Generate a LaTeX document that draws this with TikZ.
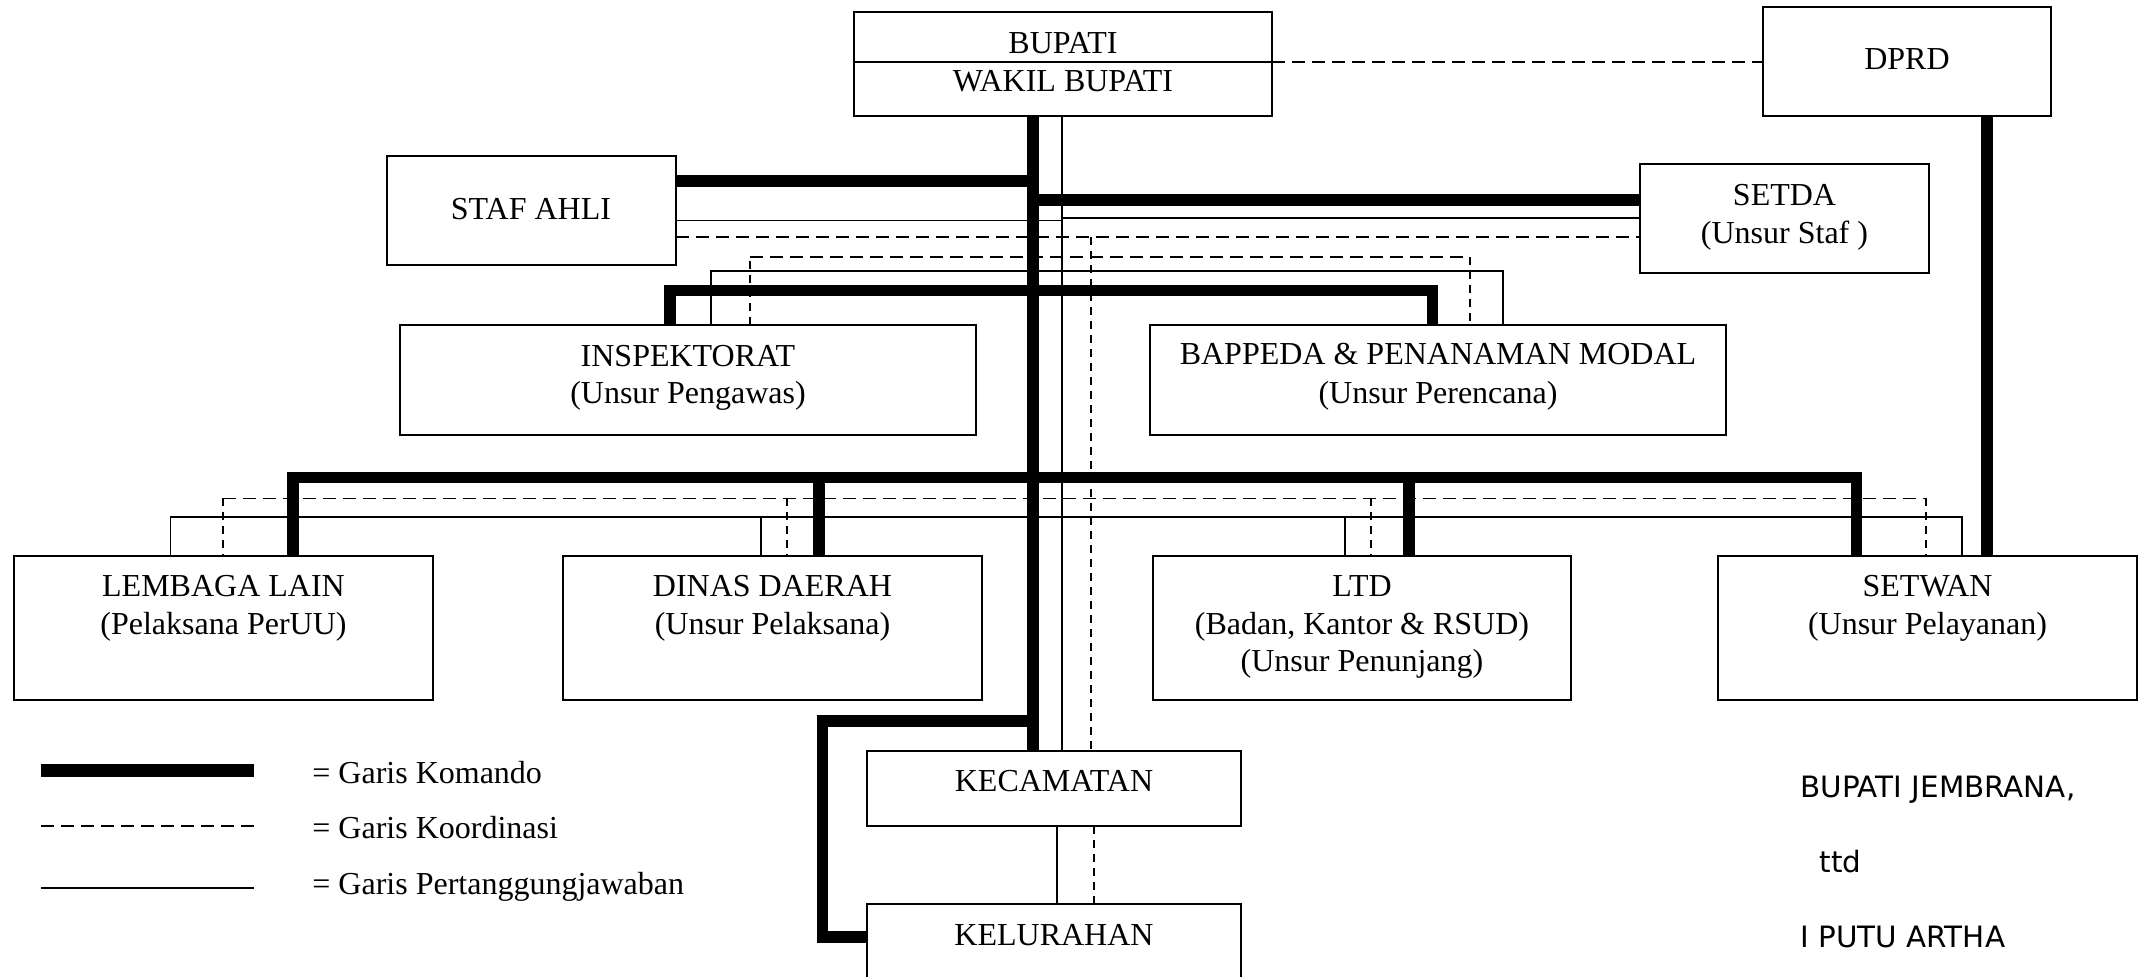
\documentclass[tikz,border=0pt]{standalone}
\usepackage{fontspec}
\setmainfont{Liberation Serif}
\newfontfamily\sigfont{DejaVu Sans}
\begin{document}
% unit: 1 = 0.5pt, y grows downwards
\newcommand\orgbox[5]{%
  \node[box, minimum width={(#4-#2)*0.5pt}, minimum height={(#5-#3)*0.5pt}]
    (#1) at ({(#2+#4)/2},{(#3+#5)/2}) {};}
\begin{tikzpicture}[x=0.5pt,y=-0.5pt,
  box/.style={draw, line width=0.75pt, rectangle, inner sep=0pt, outer sep=0pt},
  lbl/.style={anchor=base, inner sep=0pt, yshift=-0.75pt, font=\fontsize{16pt}{19pt}\selectfont},
  leglbl/.style={lbl, anchor=base west},
  sig/.style={anchor=base west, inner sep=0pt, font=\sigfont\fontsize{14.7pt}{17pt}\selectfont},
  komando/.style={line width=5.85pt, line join=miter},
  tgjwb/.style={line width=0.8pt},
  koorh/.style={line width=0.75pt, dash pattern=on 6.5pt off 3.5pt},
  koorv/.style={line width=0.75pt, dash pattern=on 4pt off 3pt}]
\useasboundingbox (0,0) rectangle (2140,977);
\clip (0,0) rectangle (2140,977);

% ---------- boxes ----------
\orgbox{bupA}{854}{12}{1272}{62}
\orgbox{bupB}{854}{62}{1272}{116}
\orgbox{dprd}{1763}{7}{2051}{116}
\orgbox{staf}{387}{156}{676}{265}
\orgbox{setda}{1640}{164}{1929}{273}
\orgbox{insp}{400}{325}{976}{435}
\orgbox{bapp}{1150}{325}{1726}{435}
\orgbox{lemb}{14}{556}{433}{700}
\orgbox{dinas}{563}{556}{982}{700}
\orgbox{ltd}{1153}{556}{1571}{700}
\orgbox{setwan}{1718}{556}{2137}{700}
\orgbox{kec}{867}{751}{1241}{826}
\orgbox{kel}{867}{904}{1241}{995}

% ---------- labels ----------
\node[lbl] (bupAt) at (1063,51.7) {BUPATI};
\node[lbl] (bupBt) at (1063,90) {WAKIL BUPATI};
\node[lbl] (dprdt) at (1907,68.3) {DPRD};
\node[lbl] (staft) at (531,218.3) {STAF AHLI};
\node[lbl] (setdat1) at (1784.5,204) {SETDA};
\node[lbl] (setdat2) at (1784.5,241.7) {(Unsur Staf )};
\node[lbl] (inspt1) at (688,365) {INSPEKTORAT};
\node[lbl] (inspt2) at (688,402.3) {(Unsur Pengawas)};
\node[lbl] (bappt1) at (1438,363.3) {BAPPEDA \& PENANAMAN MODAL};
\node[lbl] (bappt2) at (1438,401.7) {(Unsur Perencana)};
\node[lbl] (lembt1) at (223.5,595) {LEMBAGA LAIN};
\node[lbl] (lembt2) at (223.5,632.7) {(Pelaksana PerUU)};
\node[lbl] (dinast1) at (772.5,595) {DINAS DAERAH};
\node[lbl] (dinast2) at (772.5,632.7) {(Unsur Pelaksana)};
\node[lbl] (ltdt1) at (1362,595) {LTD};
\node[lbl] (ltdt2) at (1362,632.7) {(Badan, Kantor \& RSUD)};
\node[lbl] (ltdt3) at (1362,670) {(Unsur Penunjang)};
\node[lbl] (setwant1) at (1927.5,595) {SETWAN};
\node[lbl] (setwant2) at (1927.5,632.7) {(Unsur Pelayanan)};
\node[lbl] (kect) at (1054,790) {KECAMATAN};
\node[lbl] (kelt) at (1054,944.3) {KELURAHAN};

% ---------- lanes ----------
\coordinate (tk) at (1033,0);   \coordinate (tn) at (1062,0);   \coordinate (td) at (1091,0);
\coordinate (ia) at (670,0);    \coordinate (ib) at (711,0);    \coordinate (ic) at (750,0);
\coordinate (ba) at (1432.5,0); \coordinate (bb) at (1470,0);   \coordinate (bc) at (1502.7,0);
\coordinate (la) at (293,0);    \coordinate (lb) at (223,0);    \coordinate (lc) at (170.5,0);
\coordinate (da) at (819,0);    \coordinate (db) at (787,0);    \coordinate (dc) at (761,0);
\coordinate (ta) at (1409,0);   \coordinate (tb) at (1371,0);   \coordinate (tc) at (1345,0);
\coordinate (sa) at (1856.5,0); \coordinate (sb) at (1926,0);   \coordinate (sc) at (1962,0);
\coordinate (dp) at (1987,0);   \coordinate (kx) at (822.6,0);
\coordinate (kt) at (1057,0);   \coordinate (kd) at (1094,0);
\coordinate (h1) at (0,181);    \coordinate (h2) at (0,200);
\coordinate (h3) at (0,220.7);  \coordinate (h3b) at (0,218);
\coordinate (h4) at (0,237);    \coordinate (h5) at (0,257);
\coordinate (h6) at (0,271);    \coordinate (h7) at (0,290.5);
\coordinate (h8) at (0,477.5);  \coordinate (h9) at (0,498.3);
\coordinate (h10) at (0,517.3); \coordinate (h11) at (0,721.3);
\coordinate (h12) at (0,937.2);

% ---------- garis komando ----------
\draw[komando] (tk |- bupB.south) -- (tk |- kec.north);
\draw[komando] (staf.east |- h1) -- (tk |- h1);
\draw[komando] (tk |- h2) -- (setda.west |- h2);
\draw[komando] (ia |- insp.north) -- (ia |- h7) -- (ba |- h7) -- (ba |- bapp.north);
\draw[komando] (la |- lemb.north) -- (la |- h8) -- (sa |- h8) -- (sa |- setwan.north);
\draw[komando] (da |- h8) -- (da |- dinas.north);
\draw[komando] (ta |- h8) -- (ta |- ltd.north);
\draw[komando] (dp |- dprd.south) -- (dp |- setwan.north);
\draw[komando] (tk |- h11) -- (kx |- h11) -- (kx |- h12) -- (kel.west |- h12);

% ---------- garis pertanggungjawaban ----------
\draw[tgjwb] (tn |- bupB.south) -- (tn |- kec.north);
\draw[tgjwb] (staf.east |- h3) -- (tn |- h3);
\draw[tgjwb] (tn |- h3b) -- (setda.west |- h3b);
\draw[tgjwb] (ib |- insp.north) -- (ib |- h6) -- (bc |- h6) -- (bc |- bapp.north);
\draw[tgjwb] (lc |- lemb.north) -- (lc |- h10) -- (sc |- h10) -- (sc |- setwan.north);
\draw[tgjwb] (dc |- h10) -- (dc |- dinas.north);
\draw[tgjwb] (tc |- h10) -- (tc |- ltd.north);
\draw[tgjwb] (kt |- kec.south) -- (kt |- kel.north);

% ---------- garis koordinasi ----------
\draw[koorh] (bupA.south east) -- (bupA.south east -| dprd.west);
\draw[koorh] (staf.east |- h4) -- (setda.west |- h4);
\draw[koorv] (td |- h4) -- (td |- kec.north);
\draw[koorv] (ic |- insp.north) -- (ic |- h5);
\draw[koorh] (ic |- h5) -- (bb |- h5);
\draw[koorv] (bb |- h5) -- (bb |- bapp.north);
\draw[koorh] (lb |- h9) -- (sb |- h9);
\draw[koorv] (lb |- h9) -- (lb |- lemb.north);
\draw[koorv] (db |- h9) -- (db |- dinas.north);
\draw[koorv] (tb |- h9) -- (tb |- ltd.north);
\draw[koorv] (sb |- h9) -- (sb |- setwan.north);
\draw[koorv] (kd |- kec.south) -- (kd |- kel.north);

% ---------- legend ----------
\coordinate (lg1a) at (40.8,770.5); \coordinate (lg1b) at (254,770.5);
\coordinate (lg2a) at (40.8,826);   \coordinate (lg2b) at (254,826);
\coordinate (lg3a) at (40.8,887.7); \coordinate (lg3b) at (254,887.7);
\draw[line width=6.2pt] (lg1a) -- (lg1b);
\draw[line width=0.8pt, dash pattern=on 6.5pt off 3.5pt] (lg2a) -- (lg2b);
\draw[line width=1pt] (lg3a) -- (lg3b);
\node[leglbl] (leg1) at (312,781.7) {= Garis Komando};
\node[leglbl] (leg2) at (312,836.7) {= Garis Koordinasi};
\node[leglbl] (leg3) at (312,892.7) {= Garis Pertanggungjawaban};

% ---------- signature ----------
\node[sig] (sig1) at (1800,797.5) {BUPATI JEMBRANA,};
\node[sig] (sig2) at (1819.3,872.5) {ttd};
\node[sig] (sig3) at (1800,947) {I PUTU ARTHA};
\end{tikzpicture}
\end{document}
